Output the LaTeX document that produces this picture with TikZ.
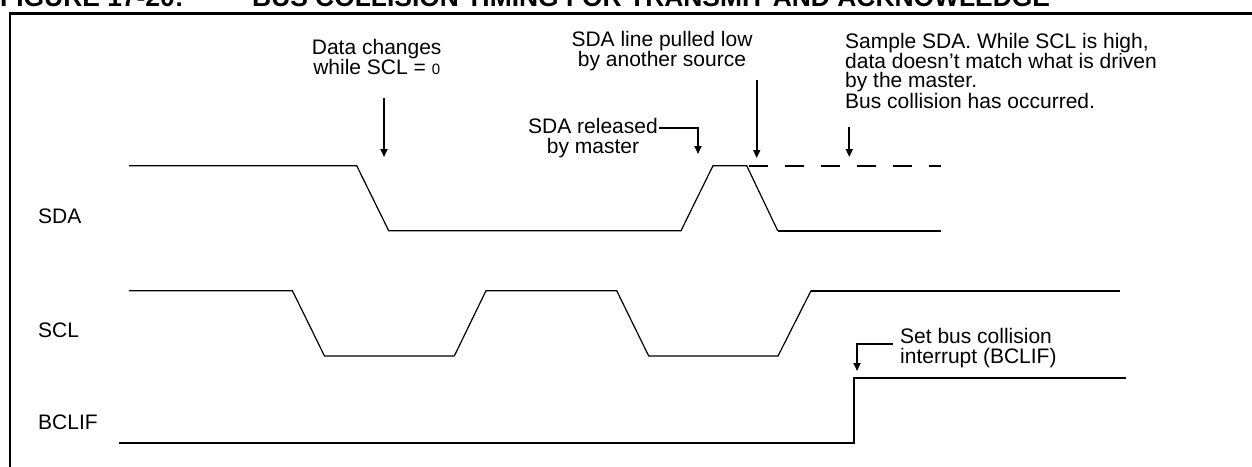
\documentclass[tikz,border=0pt]{standalone}
\usepackage{fontspec}
\setmainfont{Liberation Sans}
\usetikzlibrary{arrows.meta}

\tikzset{
	wave/.style={line width=1.2pt},
	strong/.style={line width=2.2pt},
	pointer/.style={-{Triangle[length=8pt,width=7pt]}, line width=1.7pt},
	note/.style={inner sep=0pt, align=center, font=\fontsize{21}{20}\selectfont},
	sig/.style={inner sep=0pt, anchor=west, font=\fontsize{21}{20}\selectfont},
	heading/.style={inner sep=0pt, anchor=base west, font=\fontsize{26.4}{30}\selectfont\bfseries}
}

\begin{document}
\begin{tikzpicture}[x=1pt, y=-1pt, line join=miter]
		% Levels of the three traces
		\def\sdaHi{165.7} \def\sdaLo{230.7}
		\def\sclHi{290.7} \def\sclLo{356}
		\def\bcHi{377.7} \def\bcLo{442.7}
		
		\useasboundingbox (0,0) rectangle (1252,466);
		
		% Caption and frame, both cut by the page edge
		\node[heading] (fig) at (0,6.7) {FIGURE 17-20:};
		\node[heading] (title) at (252,6.7) {BUS COLLISION TIMING FOR TRANSMIT AND ACKNOWLEDGE};
		\draw[line width=2.4pt] (10,470) -- (10,13.3) -- (1256,13.3);
		
		% Signal names
		\node[sig] (sda) at (38,216) {SDA};
		\node[sig] (scl) at (38,330) {SCL};
		\node[sig] (bclif) at (38,422) {BCLIF};
		
		% SDA trace
		\draw[wave] (129,\sdaHi) -- (356.7,\sdaHi) -- (388.7,\sdaLo) -- (681,\sdaLo)
			-- (713,\sdaHi) -- (746.7,\sdaHi) -- (777.7,\sdaLo);
		\draw[strong] (777.7,\sdaLo) -- (941,\sdaLo);
		\draw[strong, dash pattern=on 19pt off 17pt] (749,\sdaHi) -- (941,\sdaHi);
		
		% SCL trace
		\draw[wave] (129,\sclHi) -- (292.4,\sclHi) -- (324.5,\sclLo) -- (454.3,\sclLo)
			-- (486,\sclHi) -- (616.7,\sclHi) -- (648.7,\sclLo) -- (778,\sclLo) -- (811,\sclHi);
		\draw[strong] (811,\sclHi) -- (1120,\sclHi);
		
		% BCLIF trace
		\draw[strong] (119,\bcLo) -- (854,\bcLo) -- (854,\bcHi) -- (1126,\bcHi);
		
		% Notes
		\node[note] (chg) at (376.7,56.7) {Data changes\\while SCL = {\fontsize{15}{15}\selectfont 0}};
		\node[note] (low) at (662,51) {SDA line pulled low\\by another source};
		\node[note] (rel) at (593,138) {SDA released\\by master};
		\node[note, anchor=west, align=left, font=\fontsize{21}{19}\selectfont] (smp) at (845,70.7)
			{Sample SDA. While SCL is high,\\data doesn't match what is driven\\by the master.\\Bus collision has occurred.};
		\node[note, anchor=west, align=left] (set) at (900,348.5) {Set bus collision\\interrupt (BCLIF)};
		
		% Arrow ends
		\coordinate (chgT) at (384,98);    \coordinate (chgH) at (384,157);
		\coordinate (lowT) at (756.7,80);  \coordinate (lowH) at (756.7,158);
		\coordinate (relT) at (659,127.7); \coordinate (relH) at (698,154);
		\coordinate (smpT) at (849.3,127.3); \coordinate (smpH) at (849.3,157);
		\coordinate (setT) at (893,344);   \coordinate (setH) at (857,371);
		
		% Arrows
		\draw[pointer] (chgT) -- (chgH);
		\draw[pointer] (lowT) -- (lowH);
		\draw[pointer] (relT) -| (relH);
		\draw[pointer] (smpT) -- (smpH);
		\draw[pointer] (setT) -| (setH);
	\end{tikzpicture}
\end{document}
